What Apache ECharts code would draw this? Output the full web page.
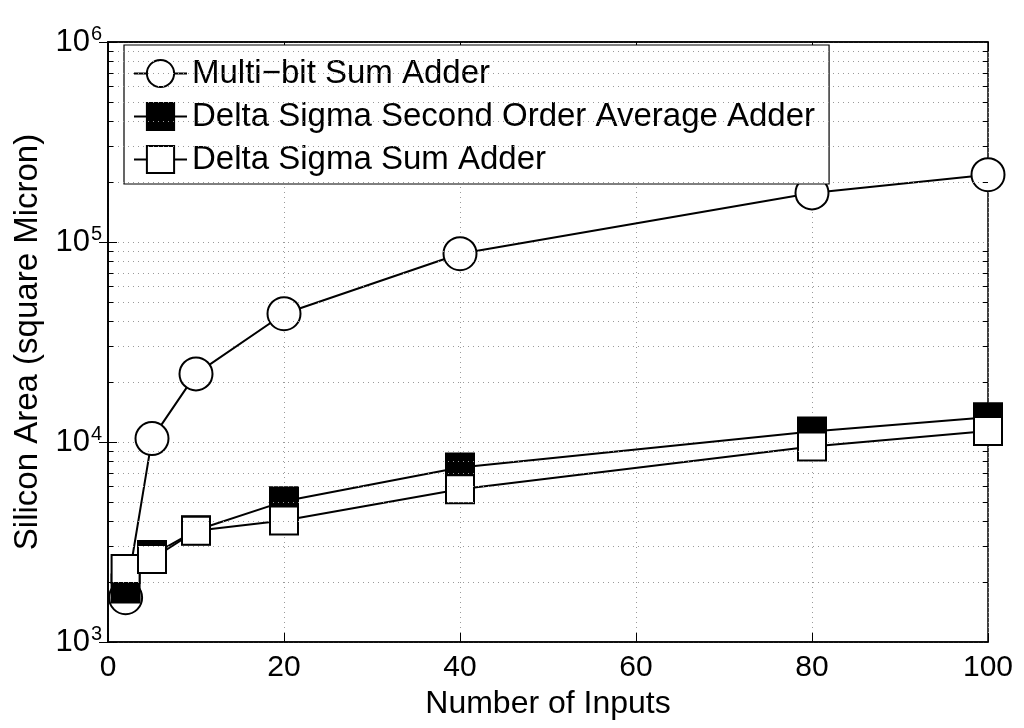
<!DOCTYPE html>
<html><head><meta charset="utf-8">
<script src="https://cdn.jsdelivr.net/npm/echarts@6/dist/echarts.min.js"></script>
<style>html,body{margin:0;padding:0;background:#fff}#c{width:1024px;height:728px}</style>
</head><body><div id="c"></div>
<script>
const inputs = [2, 5, 10, 20, 40, 80, 100];
const multiBitSum = [1665, 10400, 21900, 43800, 87400, 176000, 217000];
const dsSecondOrderAvg = [1850, 2720, 3620, 5050, 7450, 11300, 13300];
const dsSum = [2320, 2600, 3600, 4050, 5800, 9500, 11350];
const seriesNames = ['Multi\u2212bit Sum Adder', 'Delta Sigma Second Order Average Adder', 'Delta Sigma Sum Adder'];
const xTicks = [0, 20, 40, 60, 80, 100];
const yDecades = [1000, 10000, 100000, 1000000];
const minorGrid = [];
[1000, 10000, 100000].forEach(d => { for (let k = 2; k <= 9; k++) minorGrid.push(d * k); });

const FONT = 'Liberation Sans, Arial, Helvetica, sans-serif';
const pair = a => inputs.map((x, i) => [x, a[i]]);
const dotted = { color: '#9a9a9a', width: 1, type: [1, 4] };

const chart = echarts.init(document.getElementById('c'));
const lineCommon = {
  type: 'line', lineStyle: { color: '#000', width: 2 }, emphasis: { disabled: true }, animation: false
};
chart.setOption({
  animation: false,
  textStyle: { fontFamily: FONT },
  grid: { left: 108, right: 36, top: 42, bottom: 86, show: true, borderColor: '#000', borderWidth: 1.5, backgroundColor: '#fff' },
  legend: {
    left: 124, top: 45, orient: 'vertical',
    backgroundColor: '#fff', borderColor: '#000', borderWidth: 1.2,
    padding: [12, 14, 8, 9], itemGap: 10, itemWidth: 53, itemHeight: 34,
    textStyle: { fontSize: 33, color: '#000', fontFamily: FONT },
    data: seriesNames
  },
  xAxis: [{
    type: 'value', min: 0, max: 100, interval: 20,
    name: 'Number of Inputs', nameLocation: 'middle', nameGap: 38,
    nameTextStyle: { fontSize: 32, color: '#000' },
    axisLine: { show: true, lineStyle: { color: '#000', width: 1.5 } },
    axisTick: { inside: true, length: 9, lineStyle: { color: '#000' } },
    axisLabel: { fontSize: 30, color: '#000', margin: 11 },
    splitLine: { show: true, lineStyle: dotted }
  }, {
    type: 'value', min: 0, max: 100, interval: 20, position: 'top',
    axisLine: { show: true, lineStyle: { color: '#000', width: 1.5 } },
    axisTick: { inside: true, length: 9, lineStyle: { color: '#000' } },
    axisLabel: { show: false }, splitLine: { show: false }
  }],
  yAxis: [{
    type: 'log', logBase: 10, min: 1000, max: 1000000,
    name: 'Silicon Area (square Micron)', nameLocation: 'middle', nameGap: 62,
    nameTextStyle: { fontSize: 33, color: '#000' },
    axisLine: { show: true, lineStyle: { color: '#000', width: 1.5 } },
    axisTick: { inside: true, length: 9, lineStyle: { color: '#000' } },
    axisLabel: {
      fontSize: 31, color: '#000', margin: 6,
      formatter: v => '10{s|' + Math.round(Math.log10(v)) + '}',
      rich: { s: { fontSize: 20, color: '#000', verticalAlign: 'top', padding: [0, 0, 16, 1] } }
    },
    splitLine: { show: true, lineStyle: dotted }
  }, {
    type: 'log', logBase: 10, min: 1000, max: 1000000, position: 'right',
    axisLine: { show: true, lineStyle: { color: '#000', width: 1.5 } },
    axisTick: { inside: true, length: 9, lineStyle: { color: '#000' } },
    axisLabel: { show: false }, splitLine: { show: false }
  }],
  series: [
    Object.assign({}, lineCommon, {
      name: seriesNames[0], data: pair(multiBitSum), symbol: 'circle', symbolSize: 33, z: 2,
      itemStyle: { color: '#fff', borderColor: '#000', borderWidth: 2 },
      markLine: {
        silent: true, symbol: 'none', label: { show: false }, animation: false,
        lineStyle: dotted,
        data: minorGrid.map(v => ({ yAxis: v }))
      }
    }),
    Object.assign({}, lineCommon, {
      name: seriesNames[1], data: pair(dsSecondOrderAvg), symbol: 'rect', symbolSize: 28, z: 3,
      itemStyle: { color: '#000', borderColor: '#000', borderWidth: 2 },
      markLine: {
        silent: true, symbol: 'none', label: { show: false }, animation: false,
        lineStyle: { color: '#000', width: 1, type: 'solid' },
        data: minorGrid.map(v => [{ coord: [0, v] }, { coord: [0.6, v] }])
          .concat(minorGrid.map(v => [{ coord: [99.4, v] }, { coord: [100, v] }]))
      }
    }),
    Object.assign({}, lineCommon, {
      name: seriesNames[2], data: pair(dsSum), symbol: 'rect', symbolSize: 28, z: 4,
      itemStyle: { color: '#fff', borderColor: '#000', borderWidth: 2 }
    })
  ]
});
</script></body></html>
